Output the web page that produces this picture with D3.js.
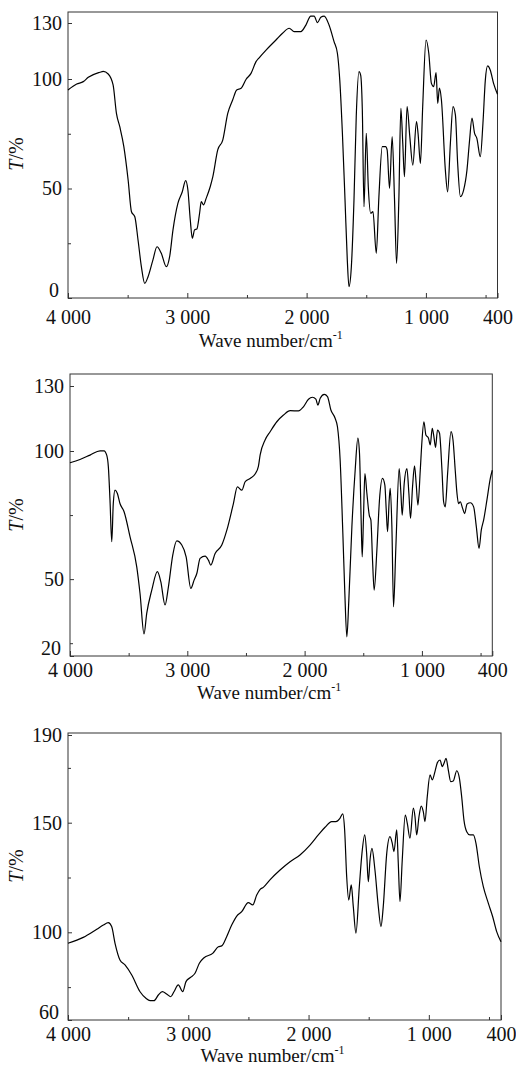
<!DOCTYPE html>
<html>
<head>
<meta charset="utf-8">
<script src="https://cdn.jsdelivr.net/npm/d3@7"></script>
<style>
    body { margin: 0; background: #fff; }
    svg text { font-family: "Liberation Serif", "Times New Roman", serif; fill: #111; }
</style>
</head>
<body>
<svg id="chart"></svg>
<script>
// x axis, shared by all three spectra
const xTickValues = [4000, 3000, 2000, 1000, 400];
const xTickLabels = ["4 000", "3 000", "2 000", "1 000", "400"];
const xMinorTicks = [3500, 2500, 1500, 500];

// y axes, one per spectrum
const yTicksA = [0, 50, 100, 130];
const yMinorA = [25, 75];
const yTicksB = [20, 50, 100, 130];
const yMinorB = [25, 75];
const yTicksC = [60, 100, 150, 190];
const yMinorC = [75, 125, 175];

// [wave number, T%]
const spectrumA = [[4000,95.0],[3927,97.7],[3872,98.8],[3830,100.9],[3733,103.6],[3705,104.1],[3663,102.7],[3622,97.3],[3594,84.3],[3566,78.2],[3532,69.1],[3496,53.9],[3468,39.4],[3440,37.1],[3413,26.5],[3385,14.3],[3357,6.7],[3329,9.7],[3288,17.4],[3254,23.4],[3218,20.4],[3176,14.3],[3148,18.9],[3120,31.1],[3079,43.2],[3042,48.5],[3014,53.6],[2995,49.3],[2975,35.6],[2958,27.3],[2939,31.1],[2920,31.5],[2897,38.7],[2883,44.0],[2864,42.5],[2842,45.5],[2808,50.8],[2786,55.4],[2745,67.6],[2703,72.1],[2661,84.3],[2620,90.4],[2586,95.0],[2549,95.8],[2507,99.9],[2466,103.0],[2424,109.3],[2396,111.5],[2340,115.5],[2257,120.9],[2202,124.5],[2146,127.2],[2104,125.4],[2048,125.4],[2006,128.9],[1965,133.7],[1937,133.7],[1909,130.2],[1881,133.1],[1853,133.7],[1812,128.9],[1770,120.0],[1742,113.8],[1722,99.5],[1700,75.2],[1678,44.7],[1659,17.4],[1645,5.2],[1625,14.3],[1603,44.7],[1584,82.8],[1561,103.9],[1547,102.1],[1533,85.8],[1519,41.7],[1500,75.2],[1483,50.8],[1463,38.7],[1444,39.4],[1416,20.4],[1394,46.3],[1366,69.1],[1338,69.1],[1325,67.6],[1305,50.1],[1283,73.7],[1263,44.7],[1246,15.8],[1227,44.7],[1210,86.6],[1194,70.6],[1180,55.4],[1158,87.4],[1135,73.7],[1110,60.7],[1079,80.5],[1066,75.2],[1046,61.5],[1027,87.4],[999,120.9],[976,113.8],[954,98.0],[935,96.5],[915,103.4],[901,88.9],[887,95.8],[870,90.4],[837,58.4],[818,48.5],[795,70.6],[773,87.4],[753,83.6],[734,61.5],[711,46.3],[684,49.3],[656,58.4],[634,72.1],[614,82.1],[592,75.2],[573,72.9],[544,64.5],[522,79.8],[502,99.5],[483,107.0],[461,104.8],[433,98.0],[400,93.0]];

const spectrumB = [[4000,95.4],[3915,96.7],[3829,98.4],[3744,100.1],[3710,100.1],[3687,98.4],[3673,93.8],[3659,80.8],[3644,64.6],[3631,79.5],[3616,84.7],[3596,83.4],[3574,79.5],[3539,76.3],[3488,66.5],[3431,54.8],[3403,44.4],[3369,28.6],[3346,36.6],[3303,45.7],[3255,52.9],[3226,49.0],[3190,39.9],[3161,47.0],[3124,59.4],[3090,64.9],[3047,63.3],[3010,58.7],[2970,46.4],[2942,49.6],[2919,52.2],[2891,58.1],[2848,59.0],[2820,57.4],[2800,55.5],[2763,60.0],[2706,63.3],[2663,69.1],[2607,79.5],[2573,86.0],[2535,84.7],[2507,88.0],[2465,89.3],[2422,91.0],[2394,94.0],[2379,98.5],[2337,105.1],[2294,108.9],[2237,113.5],[2180,116.6],[2123,118.6],[2052,118.5],[2010,120.4],[1967,123.9],[1933,124.8],[1904,123.9],[1887,121.2],[1867,124.3],[1833,126.1],[1805,125.1],[1776,118.9],[1740,115.1],[1720,111.2],[1697,96.4],[1674,67.8],[1657,44.4],[1640,27.5],[1623,41.8],[1597,70.4],[1569,92.5],[1546,105.9],[1532,99.0],[1518,73.0],[1509,58.7],[1498,74.3],[1486,91.2],[1469,83.4],[1449,75.0],[1435,73.0],[1421,57.4],[1407,45.7],[1384,61.3],[1362,80.8],[1336,89.3],[1316,86.7],[1304,76.9],[1293,68.5],[1279,80.8],[1270,85.4],[1256,70.4],[1242,39.2],[1222,62.6],[1194,93.1],[1179,83.4],[1168,75.0],[1151,87.3],[1128,93.1],[1111,83.4],[1097,73.7],[1080,86.0],[1063,94.2],[1049,87.3],[1034,78.9],[1014,92.5],[1000,104.3],[983,113.5],[966,107.4],[944,105.9],[929,102.8],[912,110.5],[898,106.6],[884,101.7],[867,109.7],[850,108.2],[829,92.5],[815,80.2],[801,78.2],[781,91.2],[752,108.9],[735,105.1],[716,92.5],[701,83.4],[688,79.5],[673,80.2],[653,77.6],[636,75.6],[615,79.3],[587,79.8],[559,78.2],[536,70.4],[513,62.0],[494,69.1],[474,73.0],[446,80.8],[417,89.3],[400,92.5]];

const spectrumC = [[4000,95.0],[3873,97.7],[3761,101.4],[3706,103.3],[3665,104.4],[3637,102.6],[3609,95.0],[3568,87.4],[3526,85.1],[3470,80.5],[3401,72.9],[3352,69.9],[3318,68.8],[3285,68.8],[3249,71.4],[3216,72.9],[3180,71.9],[3146,70.6],[3119,72.9],[3083,76.0],[3046,72.9],[3019,77.5],[2980,79.5],[2944,81.3],[2908,85.9],[2869,88.4],[2797,90.4],[2750,93.4],[2722,93.8],[2681,98.0],[2639,103.3],[2597,107.4],[2556,109.4],[2501,113.5],[2464,112.5],[2431,117.0],[2404,119.5],[2376,120.5],[2321,123.9],[2237,128.4],[2154,132.2],[2071,135.3],[1988,139.8],[1919,144.4],[1863,147.9],[1808,150.5],[1772,150.5],[1739,152.0],[1716,154.0],[1700,146.7],[1683,125.4],[1666,114.7],[1645,121.6],[1628,111.7],[1606,99.6],[1578,120.8],[1556,136.0],[1533,144.4],[1517,136.0],[1503,123.1],[1489,133.0],[1473,138.3],[1448,128.4],[1420,111.7],[1398,102.6],[1379,111.7],[1350,136.0],[1323,143.6],[1304,140.6],[1290,136.8],[1267,146.7],[1254,131.5],[1240,114.0],[1221,133.0],[1196,153.5],[1179,149.7],[1157,142.9],[1129,156.6],[1115,152.7],[1101,144.4],[1082,152.7],[1063,157.6],[1046,155.0],[1032,150.5],[1013,161.9],[990,171.8],[971,169.5],[949,173.3],[929,177.4],[907,178.6],[888,175.6],[874,177.1],[857,179.4],[838,174.0],[818,168.7],[797,169.0],[768,173.7],[746,170.3],[727,161.9],[708,151.2],[685,145.9],[658,144.4],[630,144.4],[608,140.6],[580,129.9],[547,120.8],[505,113.2],[469,107.1],[436,100.3],[400,95.7]];

// general settings
const sg = { width: 516, height: 1067, font: 20, titleFont: 19 };

// one settings object per panel (frame box, where the y tick values sit, label offsets)
const panels = [
    { data: spectrumA, yTicks: yTicksA, yMinor: yMinorA,
      left: 68, right: 497.5, top: 12, bottom: 298,
      yDomain: [0, 100, 130], yRange: [298, 79, 23],
      xPad: 12, titleY: 347, yTitleY: 154 },
    { data: spectrumB, yTicks: yTicksB, yMinor: yMinorB,
      left: 70, right: 492.3, top: 374, bottom: 656,
      yDomain: [20, 100, 130], yRange: [656, 451, 386],
      xPad: 7, titleY: 699, yTitleY: 515 },
    { data: spectrumC, yTicks: yTicksC, yMinor: yMinorC,
      left: 68, right: 501, top: 733, bottom: 1020,
      yDomain: [60, 190], yRange: [1020, 735],
      xPad: 7, titleY: 1062, yTitleY: 866 }
];

function spectrum(sg, s) {
    const si = {};

    function component(selection) {
        selection.each(function() {
            si.g = d3.select(this);
            si.x = d3.scaleLinear().domain([4000, 400]).range([s.left, s.right]);
            // piecewise scale: the printed y labels are not evenly spaced
            si.y = d3.scaleLinear().domain(s.yDomain).range(s.yRange);

            // frame
            si.g.append('rect')
                .attr('x', s.left).attr('y', s.top)
                .attr('width', s.right - s.left).attr('height', s.bottom - s.top)
                .attr('fill', 'none').attr('stroke', '#333').attr('stroke-width', 1);

            // x axis: ticks point inward
            const xAxis = si.g.append('g')
                .attr('transform', `translate(0,${s.bottom})`)
                .call(d3.axisBottom(si.x)
                    .tickValues(xTickValues)
                    .tickFormat((d, i) => xTickLabels[i])
                    .tickSize(-5).tickPadding(s.xPad));
            xAxis.selectAll('text').style('font-size', sg.font + 'px');
            si.g.append('g')
                .attr('transform', `translate(0,${s.bottom})`)
                .call(d3.axisBottom(si.x).tickValues(xMinorTicks).tickFormat('').tickSize(-3));

            // y axis
            const yAxis = si.g.append('g')
                .attr('transform', `translate(${s.left},0)`)
                .call(d3.axisLeft(si.y)
                    .tickValues(s.yTicks)
                    .tickSize(-4).tickPadding(6));
            yAxis.selectAll('text').style('font-size', sg.font + 'px');
            // lowest label sits in the corner, lift it clear of the "4 000"
            yAxis.selectAll('.tick text')
                .filter(d => d === s.yTicks[0])
                .attr('dy', '-0.1em')
                .attr('x', -9);
            si.g.append('g')
                .attr('transform', `translate(${s.left},0)`)
                .call(d3.axisLeft(si.y).tickValues(s.yMinor).tickFormat('').tickSize(-3));

            si.g.selectAll('.domain').remove();
            si.g.selectAll('.tick line').attr('stroke', '#333');
            si.g.selectAll('.tick text').attr('fill', '#111');

            // axis titles
            const xt = si.g.append('text')
                .attr('x', (s.left + s.right) / 2 - 12)
                .attr('y', s.titleY)
                .attr('text-anchor', 'middle')
                .style('font-size', sg.titleFont + 'px');
            xt.append('tspan').text('Wave number/cm');
            xt.append('tspan').attr('dy', -8).style('font-size', '12px').text('-1');

            const yt = si.g.append('text')
                .attr('transform', `translate(23,${s.yTitleY}) rotate(-90)`)
                .attr('text-anchor', 'middle')
                .style('font-size', sg.font + 'px');
            yt.append('tspan').style('font-style', 'italic').text('T');
            yt.append('tspan').text('/%');
        });
        component.update(selection);
    }

    component.update = function(selection) {
        selection.each(function() {
            const line = d3.line()
                .x(d => si.x(d[0]))
                .y(d => si.y(d[1]))
                .curve(d3.curveMonotoneX);
            si.g.append('path')
                .datum(s.data)
                .attr('d', line)
                .attr('fill', 'none')
                .attr('stroke', '#000')
                .attr('stroke-width', 1.2)
                .attr('stroke-linejoin', 'round');
        });
    };

    return component;
}

const svg = d3.select('#chart')
    .attr('width', sg.width)
    .attr('height', sg.height);

panels.forEach(p => {
    svg.append('g').attr('class', 'panel').call(spectrum(sg, p));
});
</script>
</body>
</html>
